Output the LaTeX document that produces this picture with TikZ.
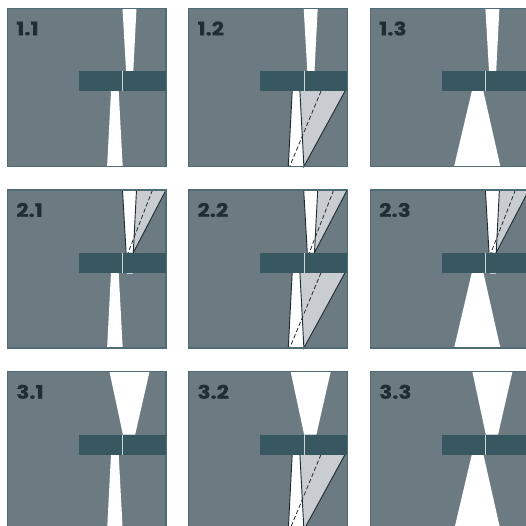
\documentclass[tikz,border=0pt]{standalone}
\usepackage{fontspec}
\setmainfont{Poppins}[BoldFeatures={FakeStretch=1.16,FakeBold=0.5}]
\usepackage{xcolor}
\usetikzlibrary{positioning}
\definecolor{panelgrey}{HTML}{6C7A82}
\definecolor{panelline}{HTML}{4F6C76}
\definecolor{barteal}{HTML}{375860}
\definecolor{wedgegrey}{HTML}{C9CCD1}
\definecolor{inkdark}{HTML}{1F2E33}
\tikzset{
  panel/.style={fill=panelgrey,draw=panelline,line width=0.9},
  wedge/.style={fill=wedgegrey},
  edge/.style={inkdark,line width=0.7},
  ray/.style={inkdark,line width=0.6,dash pattern=on 3.2pt off 1.8pt},
  panellabel/.style={anchor=west,inner sep=0pt,text=inkdark,font=\fontsize{14}{15}\selectfont\bfseries}
}
\begin{document}
\begin{tikzpicture}[x=0.75pt,y=-0.75pt]
  \useasboundingbox (0,0) rectangle (526,526);
  \clip (0,0) rectangle (526,526);
  \foreach \r/\py in {1/8.5,2/190,3/371.8}{
    \foreach \c/\px in {1/7.5,2/188.7,3/370.4}{
      \begin{scope}[shift={(\px,\py)}]
        % panel and its slits
        \coordinate (a1) at (115,0);
        \coordinate (a2) at (129,0);
        \coordinate (a3) at (125.8,62.7);
        \coordinate (a4) at (118.6,62.7);
        \coordinate (b1) at (103.5,82.7);
        \coordinate (b2) at (111.2,82.7);
        \coordinate (b3) at (115.2,158);
        \coordinate (b4) at (99.6,158);
        \fill[panelgrey] (0,0) rectangle (158.5,158);
        % upper side
        \ifnum\r=3
          \fill[white] (102,0)--(142,0)--(127.7,62.7)--(115.4,62.7)--cycle;
        \else
          \ifnum\r=2
            \fill[wedge] (a2)--(158.5,0)--(a3)--cycle;
          \fi
          \fill[white] (a1)--(a2)--(a3)--(a4)--cycle;
        \fi
        \ifnum\r=2
          \draw[edge] (a1)--(a4);
          \draw[edge] (a2)--(a3)--(158.5,0);
          \draw[ray] (145,0)--(120.6,62.7);
          \fill[wedge] (119.6,82.7) rectangle (125.6,84.3);
        \fi
        % lower side
        \ifnum\c=3
          \fill[white] (101.4,82.7)--(113,82.7)--(130,158)--(83.7,158)--cycle;
        \else
          \ifnum\c=2
            \fill[wedge] (b2)--(156.3,82.7)--(b3)--cycle;
          \fi
          \fill[white] (b1)--(b2)--(b3)--(b4)--cycle;
        \fi
        \ifnum\c=2
          \draw[edge] (b1)--(b4);
          \draw[edge] (b2)--(b3)--(156.3,82.7);
          \draw[ray] (132.3,82.7)--(101,158);
        \fi
        \draw[panel,fill=none] (0,0) rectangle (158.5,158);
        % bar with its thin opening
        \fill[barteal] (71.5,62.7) rectangle (158.5,82.7);
        \draw[white!75!barteal,line width=0.8] (115.4,62.7)--(115.4,82.7);
        \node[panellabel] (lab\r\c) at (8.5,20) {\r.\c};
      \end{scope}
    }
  }
\end{tikzpicture}
\end{document}
